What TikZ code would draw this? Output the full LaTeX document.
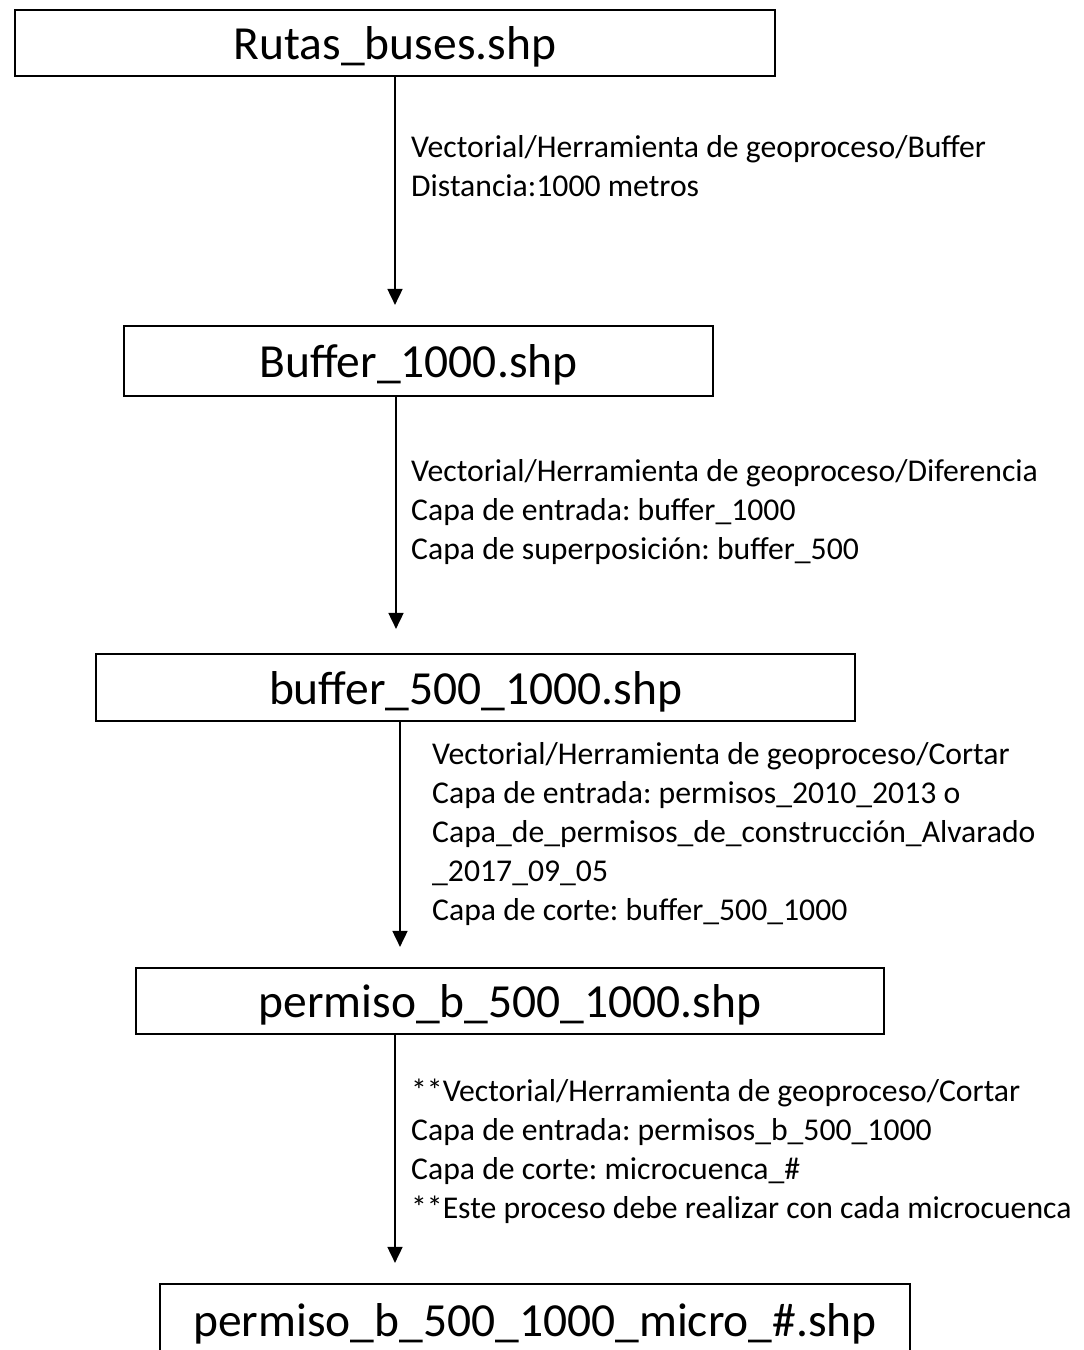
\documentclass[tikz,border=0pt]{standalone}
\usepackage{fontspec}
\setmainfont{Carlito}
\usetikzlibrary{arrows.meta}
\frenchspacing
\begin{document}
\begin{tikzpicture}[x=1pt,y=-1pt,
	caja/.style={draw,line width=2.2pt,inner sep=0pt,text depth=0pt,font=\fontsize{47.5}{57}\selectfont},
	nota/.style={anchor=north west,align=left,inner sep=0pt,font=\fontsize{31.7}{39}\selectfont},
	flecha/.style={-{Triangle[width=15pt,length=16pt]},line width=1.8pt,shorten >=20pt}]
	\useasboundingbox (0,0) rectangle (1084,1350);
	\node[caja,minimum width=760pt,minimum height=66pt] (rutas) at (395,43) {Rutas\_buses.shp};
	\node[caja,minimum width=589pt,minimum height=70pt] (buffer) at (418.5,361) {Buffer\_1000.shp};
	\node[caja,minimum width=759pt,minimum height=67pt] (b500) at (475.5,687.5) {buffer\_500\_1000.shp};
	\node[caja,minimum width=748pt,minimum height=66pt] (permiso) at (510,1001) {permiso\_b\_500\_1000.shp};
	\node[caja,minimum width=750pt,minimum height=72pt] (micro) at (535,1320) {permiso\_b\_500\_1000\_micro\_\#.shp};
	\coordinate (e2) at (396,0);
	\coordinate (e3) at (400,0);
	\coordinate (e4) at (395,0);
	\draw[flecha] (rutas.south) -- (rutas.south |- buffer.north);
	\draw[flecha,shorten >=24pt] (buffer.south -| e2) -- (e2 |- b500.north);
	\draw[flecha] (b500.south -| e3) -- (e3 |- permiso.north);
	\draw[flecha] (permiso.south -| e4) -- (e4 |- micro.north);
	\node[nota] (n1) at (411,135) {Vectorial/Herramienta de geoproceso/Buffer\\Distancia:1000 metros};
	\node[nota] (n2) at (411,459) {Vectorial/Herramienta de geoproceso/Diferencia\\Capa de entrada: buffer\_1000\\Capa de superposición: buffer\_500};
	\node[nota] (n3) at (432,742) {Vectorial/Herramienta de geoproceso/Cortar\\Capa de entrada: permisos\_2010\_2013 o\\Capa\_de\_permisos\_de\_construcción\_Alvarado\\\_2017\_09\_05\\Capa de corte: buffer\_500\_1000};
	\node[nota] (n4) at (411,1079) {**Vectorial/Herramienta de geoproceso/Cortar\\Capa de entrada: permisos\_b\_500\_1000\\Capa de corte: microcuenca\_\#\\**Este proceso debe realizar con cada microcuenca};
\end{tikzpicture}
\end{document}
